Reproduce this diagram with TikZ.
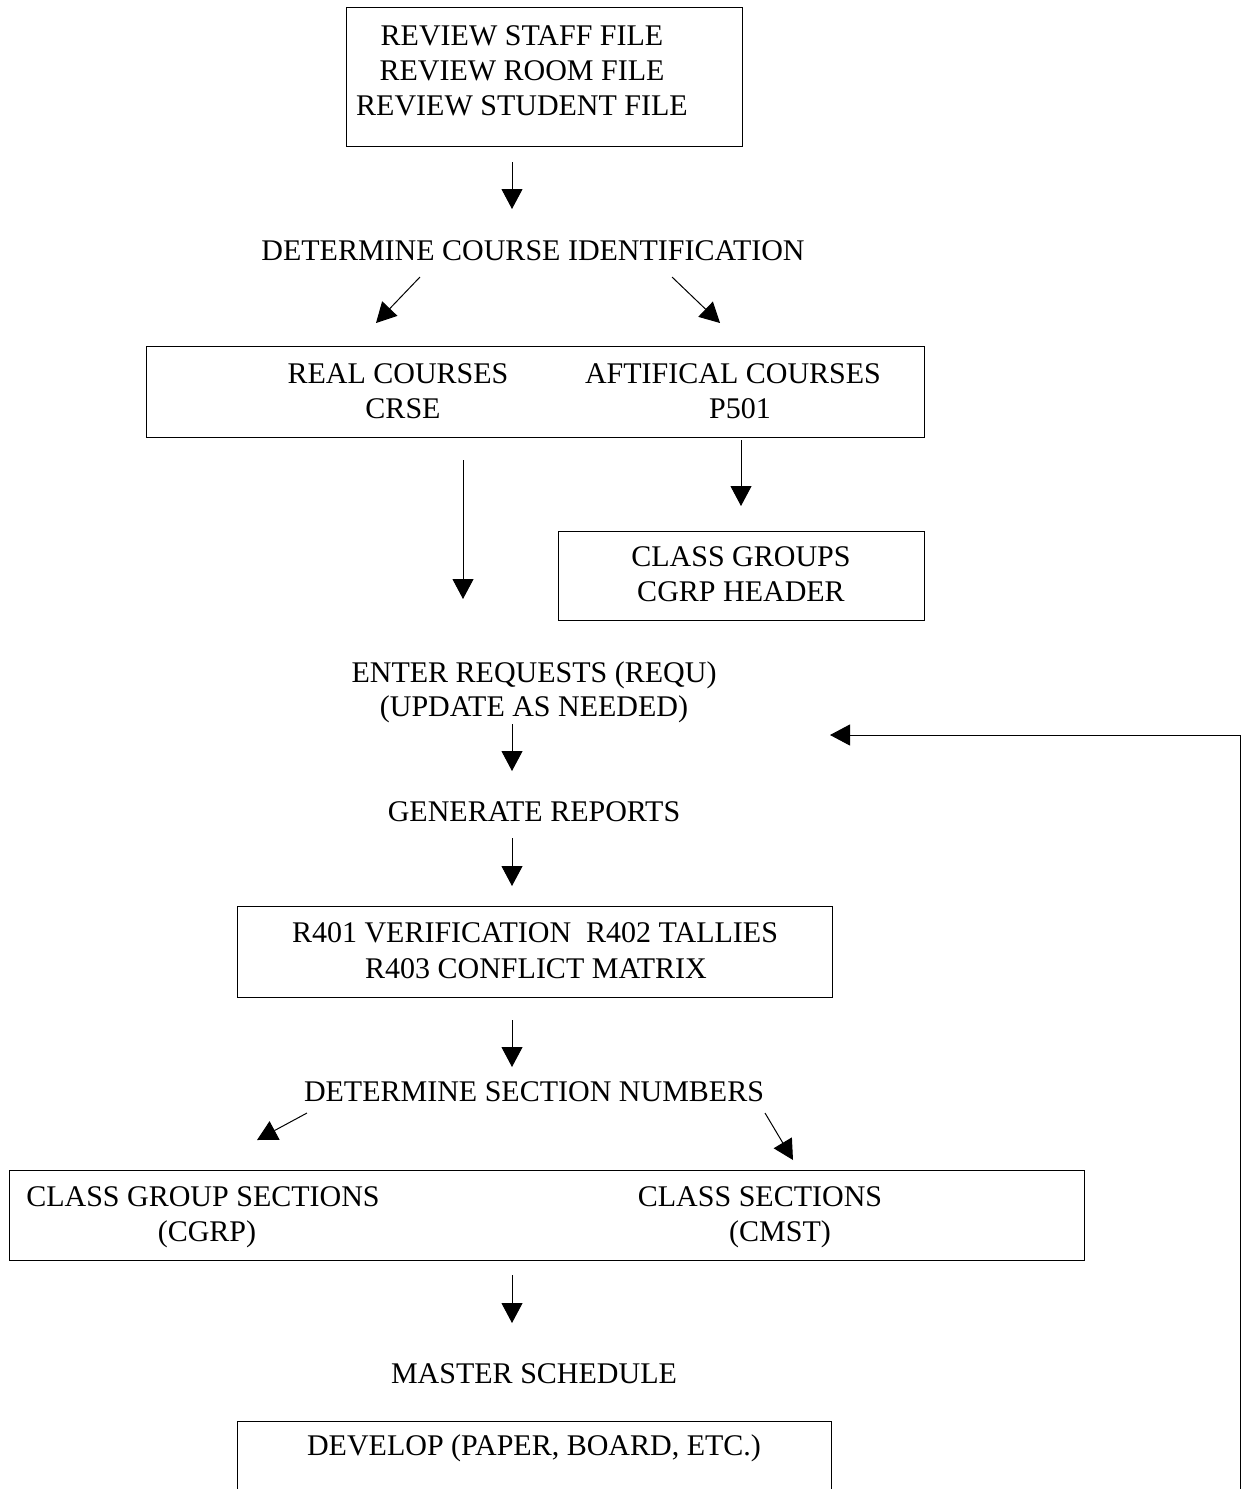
\documentclass[tikz,border=0pt]{standalone}
\usepackage{fontspec}
\setmainfont{Liberation Serif}
\usetikzlibrary{arrows.meta}
\begin{document}
\begin{tikzpicture}[x=1pt,y=-1pt,
  txt/.style={font=\fontsize{30}{35}\selectfont, inner sep=0pt, anchor=base},
  boxx/.style={draw, line width=1pt, inner sep=0pt},
  arr/.style={line width=1pt, -{Triangle[length=20pt,width=21pt]}}]
\useasboundingbox (0,0) rectangle (1249,1489);
% Box 1
\node[boxx, minimum width=396pt, minimum height=139pt] (b1) at (544,77) {};
\node[txt] (t1a) at (522,45) {REVIEW STAFF FILE};
\node[txt] (t1b) at (522,80) {REVIEW ROOM FILE};
\node[txt] (t1c) at (522,115) {REVIEW STUDENT FILE};
\coordinate (a1s) at (512,162); \coordinate (a1e) at (512,209);
\draw[arr] (a1s) -- (a1e);
\node[txt] (t2) at (533,260) {DETERMINE COURSE IDENTIFICATION};
\coordinate (a2s) at (420,277); \coordinate (a2e) at (376,323);
\coordinate (a3s) at (672,277); \coordinate (a3e) at (720,323);
\draw[arr] (a2s) -- (a2e);
\draw[arr] (a3s) -- (a3e);
% Box 2
\node[boxx, minimum width=778pt, minimum height=91pt] (b2) at (535,391.5) {};
\node[txt] (t3a) at (398,383) {REAL COURSES};
\node[txt] (t3b) at (403,418) {CRSE};
\node[txt] (t4a) at (733,383) {AFTIFICAL COURSES};
\node[txt] (t4b) at (740,418) {P501};
\coordinate (a4s) at (463,460); \coordinate (a4e) at (463,599);
\draw[arr] (a4s) -- (a4e);
\coordinate (a5s) at (741,440); \coordinate (a5e) at (741,506);
\draw[arr] (a5s) -- (a5e);
% Box 3
\node[boxx, minimum width=366pt, minimum height=89pt] (b3) at (741,575.5) {};
\node[txt] (t5a) at (741,566) {CLASS GROUPS};
\node[txt] (t5b) at (741,601) {CGRP HEADER};
\node[txt] (t6a) at (534,682) {ENTER REQUESTS (REQU)};
\node[txt] (t6b) at (534,716) {(UPDATE AS NEEDED)};
\coordinate (a6s) at (512,724); \coordinate (a6e) at (512,771);
\draw[arr] (a6s) -- (a6e);
\node[txt] (t7) at (534,821) {GENERATE REPORTS};
\coordinate (a7s) at (512,838); \coordinate (a7e) at (512,886);
\draw[arr] (a7s) -- (a7e);
% Box 4
\node[boxx, minimum width=595pt, minimum height=91pt] (b4) at (534.5,951.5) {};
\node[txt] (t8a) at (535,942) {R401 VERIFICATION\ \ R402 TALLIES};
\node[txt] (t8b) at (536,978) {R403 CONFLICT MATRIX};
\coordinate (a8s) at (512,1020); \coordinate (a8e) at (512,1067);
\draw[arr] (a8s) -- (a8e);
\node[txt] (t9) at (534,1101) {DETERMINE SECTION NUMBERS};
\coordinate (a9s) at (307,1113); \coordinate (a9e) at (257,1140);
\coordinate (a10s) at (765,1113); \coordinate (a10e) at (793,1160);
\draw[arr] (a9s) -- (a9e);
\draw[arr] (a10s) -- (a10e);
% Box 5
\node[boxx, minimum width=1075pt, minimum height=90pt] (b5) at (546.5,1215) {};
\node[txt] (t10a) at (203,1206) {CLASS GROUP SECTIONS};
\node[txt] (t10b) at (207,1241) {(CGRP)};
\node[txt] (t11a) at (760,1206) {CLASS SECTIONS};
\node[txt] (t11b) at (780,1241) {(CMST)};
\coordinate (a11s) at (512,1275); \coordinate (a11e) at (512,1323);
\draw[arr] (a11s) -- (a11e);
\node[txt] (t13) at (534,1383) {MASTER SCHEDULE};
% Box 6 (open bottom)
\coordinate (b6bl) at (237,1489); \coordinate (b6tl) at (237,1421);
\coordinate (b6tr) at (831,1421); \coordinate (b6br) at (831,1489);
\draw[line width=1pt] (b6bl) -- (b6tl) -- (b6tr) -- (b6br);
\node[txt] (t14) at (534,1455) {DEVELOP (PAPER, BOARD, ETC.)};
% Feedback loop
\coordinate (fb1) at (1240,1489); \coordinate (fb2) at (1240,735); \coordinate (fb3) at (830,735);
\draw[arr] (fb1) -- (fb2) -- (fb3);
\end{tikzpicture}
\end{document}
